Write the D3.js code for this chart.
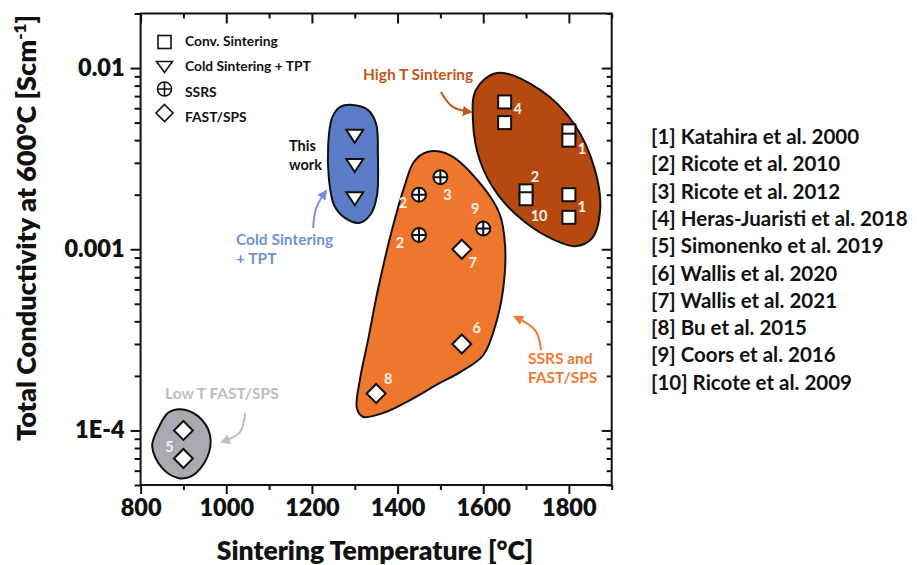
<!DOCTYPE html>
<html>
<head>
<meta charset="utf-8">
<script src="https://cdn.jsdelivr.net/npm/d3@7"></script>
<style>
  html, body { margin: 0; padding: 0; background: #fff; }
  svg { display: block; font-family: Lato, "Open Sans", sans-serif; font-weight: 700; }
</style>
</head>
<body>
<svg id="chart" width="917" height="565"></svg>
<script>
// ---- data: sintering temperature (°C) vs total conductivity at 600 °C (S/cm) ----
// Conventional sintering
const convTemp = [1650, 1650, 1800, 1800, 1700, 1700, 1800, 1800];
const convCond = [0.0065, 0.005, 0.0045, 0.004, 0.0021, 0.0019, 0.002, 0.0015];
// Cold sintering + TPT (this work)
const coldTemp = [1300, 1300, 1300];
const coldCond = [0.0042, 0.0029, 0.0019];
// Solid-state reactive sintering
const ssrsTemp = [1500, 1450, 1450, 1600];
const ssrsCond = [0.0025, 0.002, 0.0012, 0.0013];
// FAST / SPS
const fastTemp = [1550, 1550, 1350, 900, 900];
const fastCond = [0.001, 0.0003, 0.00016, 0.0001, 0.00007];

// reference numbers attached to points
const refText = ["4", "1", "2", "10", "1", "3", "2", "2", "9", "7", "6", "8", "5"];
const refTemp = [1650, 1800, 1700, 1700, 1800, 1500, 1450, 1450, 1600, 1550, 1550, 1350, 900];
const refCond = [0.0065, 0.004, 0.0021, 0.0019, 0.002, 0.0025, 0.002, 0.0012, 0.0013, 0.001, 0.0003, 0.00016, 0.0001];

// axis ticks
const xMajor = [800, 1000, 1200, 1400, 1600, 1800];
const xMinor = [900, 1100, 1300, 1500, 1700, 1900];
const yMajor = [1e-4, 1e-3, 1e-2];
const yMajorLabels = ["1E-4", "0.001", "0.01"];
const yMinor = [5e-5, 6e-5, 7e-5, 8e-5, 9e-5,
                2e-4, 3e-4, 4e-4, 5e-4, 6e-4, 7e-4, 8e-4, 9e-4,
                2e-3, 3e-3, 4e-3, 5e-3, 6e-3, 7e-3, 8e-3, 9e-3, 2e-2];

// group outlines, in (temperature, conductivity)
const highTOutline = [[1632,0.0094],[1733,0.00757],[1814,0.00485],[1861,0.00274],[1873,0.00165],
  [1854,0.00115],[1814,0.00104],[1768,0.00112],[1698,0.00141],[1635,0.00199],[1592,0.0031],
  [1576,0.00516],[1583,0.00757]];
const ssrsOutline = [[1469,0.00344],[1522,0.00331],[1600,0.0022],[1639,0.00155],[1651,0.00105],
  [1649,0.000676],[1632,0.000407],[1600,0.00026],[1546,0.00021],[1499,0.000183],[1429,0.000147],
  [1371,0.000126],[1319,0.000119],[1305,0.000133],[1312,0.00019],[1331,0.000315],[1354,0.000596],
  [1387,0.00128],[1417,0.00226],[1438,0.00303]];
const coldOutline = [[1296,0.00625],[1331,0.00586],[1350,0.00491],[1354,0.00331],[1352,0.00199],
  [1338,0.00157],[1312,0.0014],[1277,0.00149],[1252,0.00175],[1240,0.00241],[1238,0.00376],
  [1247,0.0053],[1266,0.0061]];
const lowTOutline = [[892,0.000131],[934,0.00012],[962,0.0000944],[955,0.0000705],[920,0.0000561],
  [887,0.0000547],[850,0.0000621],[827,0.000082],[845,0.000107],[864,0.000125]];

// pointer arrows next to the group names
const highTArrow = [[1501,0.00738],[1529,0.0061],[1571,0.00572]];
const coldArrow = [[1203,0.00131],[1210,0.00169],[1233,0.00209]];
const ssrsArrow = [[1735,0.000278],[1721,0.000358],[1674,0.000423]];
const lowTArrow = [[1044,0.000125],[1032,0.000098],[990,0.0000863]];

const references = [
  "[1] Katahira et al. 2000", "[2] Ricote et al. 2010", "[3] Ricote et al. 2012",
  "[4] Heras-Juaristi et al. 2018", "[5] Simonenko et al. 2019", "[6] Wallis et al. 2020",
  "[7] Wallis et al. 2021", "[8] Bu et al. 2015", "[9] Coors et al. 2016", "[10] Ricote et al. 2009"
];

// ---- layout ----
const svg = d3.select("#chart");
const plot = { left: 140.6, right: 611.7, top: 13.5, bottom: 485 };
const x = d3.scaleLinear().domain([800, 1900]).range([plot.left, plot.right]);
const y = d3.scaleLog().domain([5e-5, 0.02]).range([plot.bottom, plot.top]);

const colors = {
  highT: "#B5490F", ssrs: "#EE772D", cold: "#5B7CC6", lowT: "#A9A9B1",
  highTText: "#C0581C", coldText: "#7292D2", ssrsText: "#EE7A35", lowTText: "#BDBDBD"
};

svg.append("defs").selectAll("marker")
  .data([["ahHigh", colors.highTText], ["ahCold", colors.coldText], ["ahSsrs", colors.ssrsText], ["ahLow", colors.lowTText]])
  .join("marker")
  .attr("id", d => d[0])
  .attr("viewBox", "0 0 10 10").attr("refX", 8).attr("refY", 5)
  .attr("markerWidth", 5).attr("markerHeight", 5).attr("orient", "auto")
  .append("path").attr("d", "M0,0 L10,5 L0,10 z").attr("fill", d => d[1]);

// ---- group blobs ----
const blob = d3.line().x(d => x(d[0])).y(d => y(d[1])).curve(d3.curveCatmullRomClosed.alpha(0.5));
[[highTOutline, colors.highT], [ssrsOutline, colors.ssrs], [coldOutline, colors.cold], [lowTOutline, colors.lowT]]
  .forEach(([pts, fill]) => {
    svg.append("path").attr("d", blob(pts))
      .attr("fill", fill).attr("stroke", "#111").attr("stroke-width", 2);
  });

// ---- arrows ----
const arrowLine = d3.line().x(d => x(d[0])).y(d => y(d[1])).curve(d3.curveNatural);
[[highTArrow, colors.highTText, "ahHigh"], [coldArrow, colors.coldText, "ahCold"],
 [ssrsArrow, colors.ssrsText, "ahSsrs"], [lowTArrow, colors.lowTText, "ahLow"]]
  .forEach(([pts, c, m]) => {
    svg.append("path").attr("d", arrowLine(pts)).attr("fill", "none")
      .attr("stroke", c).attr("stroke-width", 2).attr("marker-end", `url(#${m})`);
  });

// ---- group names ----
function label(lines, xPos, yPos, color, size, anchor) {
  const t = svg.append("text").attr("fill", color).attr("font-size", size)
    .attr("text-anchor", anchor || "start");
  lines.forEach((s, i) => t.append("tspan").attr("x", xPos).attr("y", yPos + i * 18.5).text(s));
}
label(["High T Sintering"], 363, 80, colors.highTText, 15.5);
label(["This", "work"], 289, 151, "#111", 14.5);
label(["Cold Sintering", "+ TPT"], 236, 245, colors.coldText, 15.5);
label(["SSRS and", "FAST/SPS"], 528, 364, colors.ssrsText, 15.5);
label(["Low T FAST/SPS"], 165, 399, colors.lowTText, 15.5);

// ---- markers ----
const mk = svg.append("g").attr("stroke", "#111").attr("stroke-width", 2).attr("fill", "#fff");
function squareAt(g, cx, cy, s) {
  g.append("rect").attr("x", cx - s / 2).attr("y", cy - s / 2).attr("width", s).attr("height", s);
}
function triAt(g, cx, cy, w, h) {
  g.append("path").attr("d", `M${cx - w / 2},${cy - h / 2}L${cx + w / 2},${cy - h / 2}L${cx},${cy + h / 2}Z`)
    .attr("stroke-linejoin", "miter");
}
function crossCircleAt(g, cx, cy, r) {
  g.append("circle").attr("cx", cx).attr("cy", cy).attr("r", r);
  g.append("path").attr("d", `M${cx - r},${cy}H${cx + r}M${cx},${cy - r}V${cy + r}`);
}
function diamondAt(g, cx, cy, r) {
  g.append("path").attr("d", `M${cx},${cy - r}L${cx + r},${cy}L${cx},${cy + r}L${cx - r},${cy}Z`);
}

convTemp.forEach((t, i) => squareAt(mk, x(t), y(convCond[i]), 13));
coldTemp.forEach((t, i) => triAt(mk, x(t), y(coldCond[i]), 17, 13));
ssrsTemp.forEach((t, i) => crossCircleAt(mk, x(t), y(ssrsCond[i]), 7));
fastTemp.forEach((t, i) => diamondAt(mk, x(t), y(fastCond[i]), 9.5));

// reference numbers, offset from their points
const refOffset = [[13, 7], [13, 8], [9, -14], [13, 17], [13, 12], [7, 17], [-16, 8], [-19, 8],
                   [-8, -20], [11, 13], [15, -16], [12, -15], [-14, 16]];
svg.append("g").selectAll("text").data(refText).join("text")
  .attr("x", (d, i) => x(refTemp[i]) + refOffset[i][0])
  .attr("y", (d, i) => y(refCond[i]) + refOffset[i][1])
  .attr("text-anchor", "middle").attr("dominant-baseline", "central")
  .attr("font-size", 14.5).attr("fill", "#FDF1E6")
  .text(d => d);

// ---- axes ----
const axesG = svg.append("g");
function styleAxis(g) {
  g.select(".domain").remove();
  g.selectAll("line").attr("stroke", "#111").attr("stroke-width", 2);
  g.selectAll("text").attr("fill", "#111").attr("font-size", 23.5).attr("font-weight", 800)
    .attr("font-family", "Lato, sans-serif");
}
// bottom (outside ticks)
axesG.append("g").attr("transform", `translate(0,${plot.bottom})`)
  .call(d3.axisBottom(x).tickValues(xMajor).tickSize(9).tickPadding(5).tickFormat(d3.format("d")))
  .call(styleAxis);
axesG.append("g").attr("transform", `translate(0,${plot.bottom})`)
  .call(d3.axisBottom(x).tickValues(xMinor).tickSize(5).tickFormat(""))
  .call(styleAxis);
// top (inside ticks)
axesG.append("g").attr("transform", `translate(0,${plot.top})`)
  .call(d3.axisTop(x).tickValues(xMajor).tickSize(-10).tickFormat(""))
  .call(styleAxis);
axesG.append("g").attr("transform", `translate(0,${plot.top})`)
  .call(d3.axisTop(x).tickValues(xMinor).tickSize(-5).tickFormat(""))
  .call(styleAxis);
// left (outside ticks)
axesG.append("g").attr("transform", `translate(${plot.left},0)`)
  .call(d3.axisLeft(y).tickValues(yMajor).tickSize(10).tickPadding(6)
    .tickFormat((d, i) => yMajorLabels[i]))
  .call(styleAxis);
axesG.append("g").attr("transform", `translate(${plot.left},0)`)
  .call(d3.axisLeft(y).tickValues(yMinor).tickSize(6).tickFormat(""))
  .call(styleAxis);
// right (inside ticks)
axesG.append("g").attr("transform", `translate(${plot.right},0)`)
  .call(d3.axisRight(y).tickValues(yMajor).tickSize(-10).tickFormat(""))
  .call(styleAxis);
axesG.append("g").attr("transform", `translate(${plot.right},0)`)
  .call(d3.axisRight(y).tickValues(yMinor).tickSize(-5).tickFormat(""))
  .call(styleAxis);
// frame
axesG.append("rect").attr("x", plot.left).attr("y", plot.top)
  .attr("width", plot.right - plot.left).attr("height", plot.bottom - plot.top)
  .attr("fill", "none").attr("stroke", "#111").attr("stroke-width", 2);

// axis titles
svg.append("text").attr("x", 375).attr("y", 560)
  .attr("text-anchor", "middle").attr("font-size", 26.5).attr("font-weight", 800).attr("fill", "#111")
  .text("Sintering Temperature [°C]");
const yt = svg.append("text").attr("transform", `translate(36,228) rotate(-90)`)
  .attr("text-anchor", "middle").attr("font-size", 27).attr("font-weight", 800).attr("fill", "#111");
yt.append("tspan").text("Total Conductivity at 600°C [Scm");
yt.append("tspan").attr("dy", -10).attr("font-size", 17).text("-1");
yt.append("tspan").attr("dy", 10).text("]");

// ---- symbol legend ----
const legendItems = ["Conv. Sintering", "Cold Sintering + TPT", "SSRS", "FAST/SPS"];
const legendRows = [40, 65, 91, 116];
const lg = svg.append("g").attr("stroke", "#111").attr("stroke-width", 1.6).attr("fill", "#fff");
squareAt(lg, 164.5, 42, 13);
triAt(lg, 164.5, 67, 16, 11);
crossCircleAt(lg, 164.5, 89, 7);
diamondAt(lg, 164.5, 113, 8.5);
svg.append("g").selectAll("text").data(legendItems).join("text")
  .attr("x", 185).attr("y", (d, i) => legendRows[i])
  .attr("dominant-baseline", "central").attr("font-size", 13.8).attr("fill", "#111")
  .text(d => d);

// ---- reference list ----
svg.append("g").selectAll("text").data(references).join("text")
  .attr("x", 651).attr("y", (d, i) => 136 + i * 27.3)
  .attr("dominant-baseline", "central").attr("font-size", 20.5).attr("fill", "#111")
  .text(d => d);
</script>
</body>
</html>
